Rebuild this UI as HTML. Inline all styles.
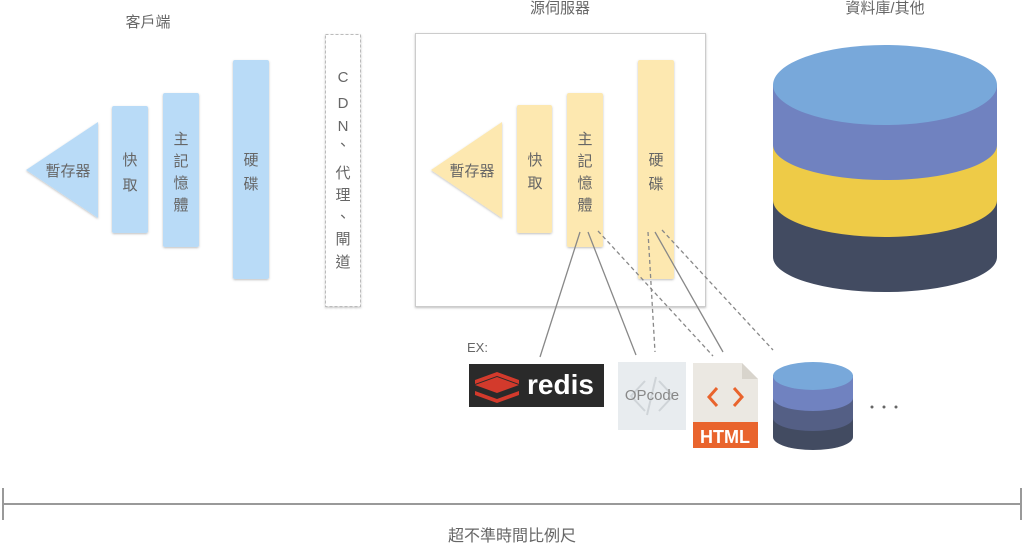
<!DOCTYPE html>
<html><head><meta charset="utf-8"><style>
body{margin:0;width:1024px;height:545px;background:#fff;overflow:hidden;font-family:"Liberation Sans","Noto Sans CJK TC",sans-serif}
</style></head><body>
<svg width="1024" height="545" xmlns="http://www.w3.org/2000/svg" style="position:absolute;left:0;top:0" font-family="Liberation Sans, Noto Sans CJK TC, sans-serif">
<defs><filter id="sh" x="-20%" y="-20%" width="140%" height="140%"><feDropShadow dx="0" dy="1" stdDeviation="1" flood-color="#000" flood-opacity="0.25"/></filter></defs>
<g fill="#666" font-size="15" text-anchor="middle">
<text x="148" y="27">客戶端</text>
<text x="560" y="13">源伺服器</text>
<text x="885" y="13">資料庫/其他</text>
</g>
<g fill="#b9dbf7" filter="url(#sh)">
<polygon points="26,170 98,122 98,218"/>
<rect x="112" y="106" width="36" height="127" rx="2"/>
<rect x="163" y="93" width="36" height="154" rx="2"/>
<rect x="233" y="60" width="36" height="219" rx="2"/>
</g>
<g fill="#666" font-size="15" text-anchor="middle">
<text x="68" y="176">暫存器</text>
<text x="130" y="165">快</text><text x="130" y="190">取</text>
<text x="181" y="144">主</text><text x="181" y="166">記</text><text x="181" y="188">憶</text><text x="181" y="210">體</text>
<text x="251" y="165">硬</text><text x="251" y="189">碟</text>
</g>
<rect x="325.5" y="34.5" width="35" height="272" fill="#fff" stroke="#bbb" stroke-dasharray="3,2" filter="url(#sh)"/>
<g fill="#666" font-size="15" text-anchor="middle">
<text x="343" y="82">C</text><text x="343" y="108">D</text><text x="343" y="131">N</text><text x="343" y="150">、</text>
<text x="343" y="178">代</text><text x="343" y="200">理</text><text x="343" y="222">、</text><text x="343" y="244">閘</text><text x="343" y="267">道</text>
</g>
<rect x="415.5" y="33.5" width="290" height="273" fill="#fff" stroke="#ccc" filter="url(#sh)"/>
<g fill="#fde8b0" filter="url(#sh)">
<polygon points="431,170 502,122 502,218"/>
<rect x="517" y="105" width="35" height="128" rx="2"/>
<rect x="567" y="93" width="36" height="154" rx="2"/>
<rect x="638" y="60" width="36" height="219" rx="2"/>
</g>
<g fill="#666" font-size="15" text-anchor="middle">
<text x="472" y="176">暫存器</text>
<text x="535" y="165">快</text><text x="535" y="188">取</text>
<text x="585" y="144">主</text><text x="585" y="166">記</text><text x="585" y="188">憶</text><text x="585" y="210">體</text>
<text x="656" y="165">硬</text><text x="656" y="189">碟</text>
</g>
<g stroke="#888" stroke-width="1.3" fill="none">
<line x1="580" y1="232" x2="540" y2="357"/>
<line x1="588" y1="232" x2="636" y2="355"/>
<line x1="655" y1="232" x2="723" y2="352"/>
<g stroke-dasharray="4,3">
<line x1="598" y1="231" x2="713" y2="356"/>
<line x1="648" y1="232" x2="655" y2="352"/>
<line x1="662" y1="230" x2="773" y2="350"/>
</g>
</g>
<path d="M773,85 L773,257 A112,35 0 0 0 997,257 L997,85 Z" fill="#424b61"/>
<path d="M773,85 L773,200 A112,37 0 0 0 997,200 L997,85 Z" fill="#eecb47"/>
<path d="M773,85 L773,145 A112,35 0 0 0 997,145 L997,85 Z" fill="#7082c0"/>
<ellipse cx="885" cy="85" rx="112" ry="40" fill="#78a8da"/>
<text x="467" y="352" fill="#666" font-size="13">EX:</text>
<rect x="469" y="364" width="135" height="43" fill="#2a2a2a"/>
<g fill="#d33a2c"><polygon points="475,385 497,377 519,385 497,393"/><polygon points="475,391 497,399 519,391 519,395 497,403 475,395"/><polygon points="475,384 497,376 519,384 519,380 497,372 475,380"/></g>
<text x="527" y="394" fill="#fff" font-size="28" font-weight="bold">redis</text>
<rect x="618" y="362" width="68" height="68" fill="#e8ecef"/>
<g stroke="#cfd4d8" stroke-width="2" fill="none"><polyline points="645,381 631,396 645,411"/><polyline points="659,381 673,396 659,411"/><line x1="656" y1="377" x2="647" y2="415"/></g>
<text x="652" y="400" fill="#888" font-size="15" text-anchor="middle">OPcode</text>
<path d="M693,363 L742,363 L758,379 L758,448 L693,448 Z" fill="#ebe8e2"/>
<path d="M742,363 L742,379 L758,379 Z" fill="#d8d4cc"/>
<rect x="693" y="422" width="65" height="26" fill="#e9642d"/>
<g stroke="#e9642d" stroke-width="3" fill="none"><polyline points="717,388 709,397 717,406"/><polyline points="734,388 742,397 734,406"/></g>
<text x="725" y="443" fill="#fff" font-size="18" font-weight="bold" text-anchor="middle">HTML</text>
<path d="M773,375 L773,437 A40,13 0 0 0 853,437 L853,375 Z" fill="#424b61"/>
<path d="M773,375 L773,418 A40,13 0 0 0 853,418 L853,375 Z" fill="#545f85"/>
<path d="M773,375 L773,398 A40,13 0 0 0 853,398 L853,375 Z" fill="#7082c0"/>
<ellipse cx="813" cy="376" rx="40" ry="14" fill="#78a8da"/>
<g fill="#666"><circle cx="872" cy="407" r="1.5"/><circle cx="884" cy="407" r="1.5"/><circle cx="896" cy="407" r="1.5"/></g>
<g stroke="#999" stroke-width="2"><line x1="3" y1="504" x2="1021" y2="504"/><line x1="3" y1="488" x2="3" y2="520"/><line x1="1021" y1="488" x2="1021" y2="520"/></g>
<text x="512" y="541" fill="#666" font-size="16" text-anchor="middle">超不準時間比例尺</text>
</svg>
</body></html>
